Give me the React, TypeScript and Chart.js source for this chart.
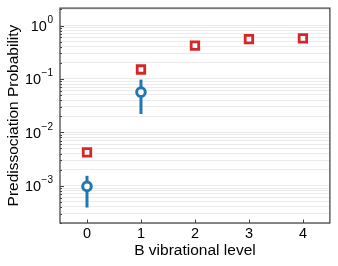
import React, { useEffect, useRef } from "react";
import { Chart, registerables } from "chart.js";

Chart.register(...registerables);

const categories = [0, 1, 2, 3, 4];
const xTickLabels = ["0", "1", "2", "3", "4"];
const redValues = [4.2e-3, 0.15, 0.42, 0.556, 0.573];
const blueX = [0, 1];
const blueValues = [9.7e-4, 0.0565];
const blueLow = [3.9e-4, 0.022];
const blueHigh = [1.53e-3, 0.097];
const yMajorExponents = [-3, -2, -1, 0];
const yMin = 2e-4;
const yMax = 2.12;
const xTitle = "B vibrational level";
const yTitle = "Predissociation Probability";

const RED = "#d62728";
const BLUE = "#1f77b4";
const FONT = "'Liberation Sans', Arial, sans-serif";

const customPlugin = {
  id: "custom",
  beforeDatasetsDraw(chart: any) {
    const { ctx, scales } = chart;
    const xs = scales.x;
    const ys = scales.y;
    ctx.save();
    ctx.strokeStyle = BLUE;
    ctx.lineWidth = 3;
    for (let i = 0; i < blueX.length; i++) {
      const px = xs.getPixelForValue(blueX[i]);
      ctx.beginPath();
      ctx.moveTo(px, ys.getPixelForValue(blueLow[i]));
      ctx.lineTo(px, ys.getPixelForValue(blueHigh[i]));
      ctx.stroke();
    }
    ctx.restore();
  },
  afterDraw(chart: any) {
    const { ctx, scales, chartArea } = chart;
    const xs = scales.x;
    const ys = scales.y;
    const { left, right, top, bottom } = chartArea;
    ctx.save();
    ctx.strokeStyle = "#444";
    ctx.lineWidth = 1;
    ys.ticks.forEach((t: any) => {
      const py = Math.round(ys.getPixelForValue(t.value)) + 0.5;
      const len = t.major ? 4 : 2;
      ctx.beginPath();
      ctx.moveTo(left, py);
      ctx.lineTo(left + len, py);
      ctx.stroke();
    });
    categories.forEach((c) => {
      const px = Math.round(xs.getPixelForValue(c)) + 0.5;
      ctx.beginPath();
      ctx.moveTo(px, bottom);
      ctx.lineTo(px, bottom - 3.5);
      ctx.stroke();
    });
    ctx.strokeStyle = "#444";
    ctx.lineWidth = 1.25;
    ctx.strokeRect(left, top, right - left, bottom - top);
    ctx.fillStyle = "#000";
    const rightEdge = left - 7;
    yMajorExponents.forEach((e) => {
      const py = ys.getPixelForValue(Math.pow(10, e));
      const expText = e < 0 ? "\u2212" + Math.abs(e) : String(e);
      ctx.font = `10px ${FONT}`;
      ctx.textAlign = "right";
      ctx.textBaseline = "alphabetic";
      const ew = ctx.measureText(expText).width;
      ctx.fillText(expText, rightEdge, py - 2.5);
      ctx.font = `14.5px ${FONT}`;
      ctx.textBaseline = "middle";
      ctx.fillText("10", rightEdge - ew - 0.5, py + 1.5);
    });
    ctx.restore();
  },
};

export default function App() {
  const ref = useRef<HTMLCanvasElement | null>(null);
  useEffect(() => {
    if (!ref.current) return;
    const chart = new Chart(ref.current, {
      type: "scatter",
      data: {
        datasets: [
          {
            label: "blue",
            data: blueX.map((x, i) => ({ x, y: blueValues[i] })),
            pointStyle: "circle",
            pointRadius: 4.3,
            borderWidth: 3,
            borderColor: BLUE,
            backgroundColor: "#fff",
          },
          {
            label: "red",
            data: categories.map((x, i) => ({ x, y: redValues[i] })),
            pointStyle: "rect",
            pointRadius: 5.3,
            borderWidth: 2.8,
            borderColor: RED,
            backgroundColor: "#fff",
          },
        ],
      },
      options: {
        animation: false,
        responsive: false,
        events: [],
        layout: { padding: { top: 7, right: 8, left: 0, bottom: 0 } },
        plugins: { legend: { display: false }, tooltip: { enabled: false } },
        scales: {
          x: {
            type: "linear",
            min: -0.5,
            max: 4.5,
            afterBuildTicks: (scale: any) => {
              scale.ticks = categories.map((v) => ({ value: v }));
            },
            afterFit: (scale: any) => {
              scale.height = 43;
            },
            grid: { display: false, drawTicks: false },
            border: { display: false },
            ticks: {
              padding: 2,
              color: "#000",
              font: { family: FONT, size: 14.5 },
              callback: (v: any, i: number) => xTickLabels[i] ?? String(v),
              maxRotation: 0,
            },
            title: {
              display: true,
              text: xTitle,
              color: "#000",
              font: { family: FONT, size: 15.5 },
              padding: { top: 0, bottom: 6 },
            },
          },
          y: {
            type: "logarithmic",
            min: yMin,
            max: yMax,
            afterBuildTicks: (scale: any) => {
              const t: any[] = [];
              for (let n = -4; n <= 0; n++) {
                for (let k = 1; k <= 9; k++) {
                  const v = k * Math.pow(10, n);
                  if (v >= yMin && v <= yMax) t.push({ value: v, major: k === 1 });
                }
              }
              t.push({ value: 2, major: false });
              scale.ticks = t;
            },
            afterFit: (scale: any) => {
              scale.width = 60;
            },
            grid: {
              drawTicks: false,
              color: "#ebebeb",
              lineWidth: 1,
            },
            border: { display: false },
            ticks: { display: false },
            title: {
              display: true,
              text: yTitle,
              color: "#000",
              font: { family: FONT, size: 15.5 },
              padding: { top: 4.5, bottom: 0 },
            },
          },
        },
      },
      plugins: [customPlugin],
    } as any);
    return () => chart.destroy();
  }, []);
  return (
    <div style={{ position: "fixed", left: 0, top: 0, width: 338, height: 266, background: "#fff" }}>
      <canvas ref={ref} width={338} height={266} style={{ display: "block" }} />
    </div>
  );
}
